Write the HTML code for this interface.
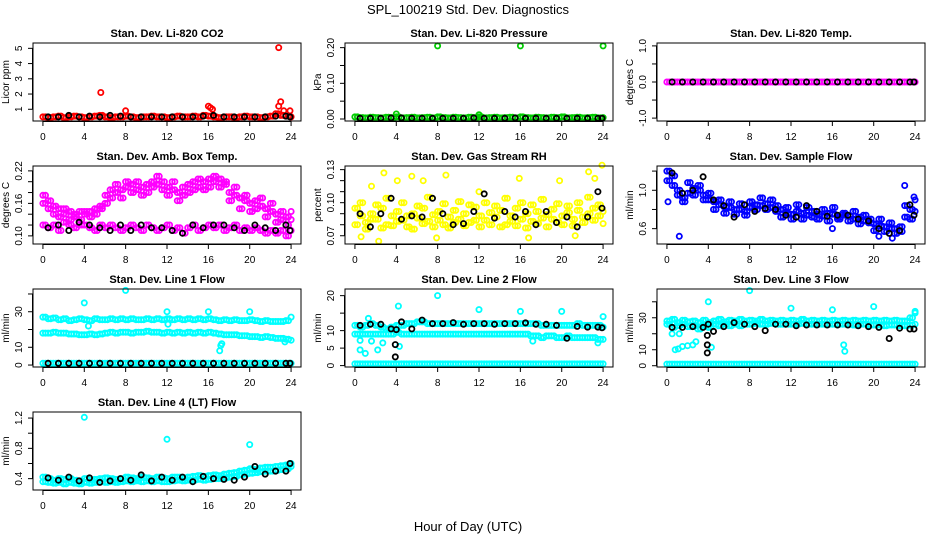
<!DOCTYPE html>
<html><head><meta charset="utf-8"><title>SPL_100219 Std. Dev. Diagnostics</title>
<style>
html,body{margin:0;padding:0;background:#fff;}
svg{display:block;font-family:"Liberation Sans",Arial,sans-serif;}
</style></head>
<body>
<svg id="chart" width="936" height="540" viewBox="0 0 936 540" xmlns="http://www.w3.org/2000/svg">
<text x="468" y="14" text-anchor="middle" font-size="13">SPL_100219  Std. Dev. Diagnostics</text>
<text x="468" y="531" text-anchor="middle" font-size="13">Hour of Day (UTC)</text>
</svg>
<script>
// ---- shared hour arrays ----
const H49 = [0,0.5,1,1.5,2,2.5,3,3.5,4,4.5,5,5.5,6,6.5,7,7.5,8,8.5,9,9.5,10,10.5,11,11.5,12,12.5,13,13.5,14,14.5,15,15.5,16,16.5,17,17.5,18,18.5,19,19.5,20,20.5,21,21.5,22,22.5,23,23.5,24];
const HB = [0.5,1.5,2.5,3.5,4.5,5.5,6.5,7.5,8.5,9.5,10.5,11.5,12.5,13.5,14.5,15.5,16.5,17.5,18.5,19.5,20.5,21.5,22.5,23.5,23.9];
const xTicks = [0,4,8,12,16,20,24];

// ---- CO2 ----
const co2Red = [0.5,0.45,0.5,0.55,0.45,0.5,0.55,0.5,0.45,0.5,0.55,0.6,0.5,0.45,0.5,0.5,0.55,0.5,0.45,0.5,0.5,0.55,0.5,0.5,0.45,0.5,0.55,0.5,0.5,0.55,0.5,0.6,0.55,0.5,0.45,0.5,0.5,0.45,0.5,0.55,0.5,0.5,0.45,0.5,0.55,0.7,0.6,0.55,0.5];
const co2Black = [0.5,0.5,0.6,0.5,0.55,0.5,0.6,0.55,0.5,0.5,0.5,0.5,0.5,0.5,0.5,0.55,0.6,0.5,0.5,0.5,0.5,0.5,0.55,0.55,0.5];
const co2OutX = [5.6,8,16,16.2,16.4,22.8,22.8,23,23.3,23.9];
const co2OutY = [2.1,0.9,1.2,1.1,1.0,5.05,1.2,1.5,0.9,0.9];
const co2Ticks = [1,2,3,4,5];

// ---- Pressure ----
const presGreen = [0.006,0.004,0.003,0.005,0.004,0.003,0.005,0.004,0.006,0.003,0.004,0.005,0.003,0.004,0.005,0.003,0.006,0.004,0.003,0.005,0.004,0.003,0.005,0.004,0.006,0.003,0.004,0.005,0.003,0.004,0.005,0.003,0.006,0.004,0.003,0.005,0.004,0.003,0.005,0.004,0.006,0.003,0.004,0.005,0.003,0.004,0.005,0.003,0.004];
const presBlack = [0.002,0.002,0.002,0.003,0.003,0.002,0.002,0.002,0.002,0.002,0.002,0.003,0.002,0.002,0.002,0.003,0.002,0.002,0.002,0.002,0.002,0.002,0.002,0.002,0.002];
const presOutX = [4,8,12,16,24];
const presOutY = [0.014,0.205,0.012,0.205,0.205];
const presTicks = [0,0.05,0.10,0.15,0.20];

// ---- Li-820 Temp ----
const tempMag = [0,0,0,0,0,0,0,0,0,0,0,0,0,0,0,0,0,0,0,0,0,0,0,0,0,0,0,0,0,0,0,0,0,0,0,0,0,0,0,0,0,0,0,0,0,0,0,0,0];
const tempBlack = [0,0,0,0,0,0,0,0,0,0,0,0,0,0,0,0,0,0,0,0,0,0,0,0,0];
const tempTicks = [-1,-0.5,0,0.5,1];

// ---- Amb Box Temp ----
const ambUpper = [0.175,0.165,0.155,0.15,0.15,0.145,0.14,0.145,0.14,0.145,0.15,0.155,0.175,0.185,0.18,0.185,0.19,0.195,0.185,0.19,0.195,0.2,0.195,0.2,0.19,0.185,0.18,0.175,0.195,0.2,0.19,0.2,0.205,0.2,0.205,0.195,0.18,0.175,0.17,0.165,0.16,0.165,0.155,0.15,0.145,0.14,0.13,0.135,0.145];
const ambUpper2 = [0.16,0.15,0.14,0.135,0.14,0.13,0.135,0.13,0.145,0.135,0.14,0.15,0.16,0.17,0.195,0.17,0.2,0.18,0.2,0.175,0.18,0.19,0.21,0.185,0.175,0.2,0.165,0.19,0.18,0.185,0.205,0.185,0.19,0.21,0.19,0.2,0.165,0.19,0.15,0.175,0.145,0.15,0.17,0.135,0.16,0.125,0.145,0.12,0.13];
const ambLower = [0.12,0.115,0.12,0.11,0.125,0.12,0.115,0.12,0.12,0.115,0.11,0.12,0.115,0.12,0.115,0.11,0.115,0.12,0.115,0.11,0.12,0.115,0.11,0.115,0.12,0.11,0.115,0.105,0.115,0.12,0.11,0.115,0.12,0.115,0.12,0.11,0.115,0.12,0.11,0.115,0.11,0.115,0.11,0.105,0.11,0.105,0.11,0.1,0.11];
const ambBlack = [0.115,0.12,0.11,0.125,0.12,0.115,0.11,0.12,0.11,0.12,0.115,0.115,0.11,0.105,0.12,0.115,0.12,0.12,0.115,0.11,0.12,0.115,0.11,0.12,0.11];
const ambTicks = [0.10,0.12,0.14,0.16,0.18,0.20,0.22];

// ---- Gas Stream RH ----
const gas1 = [0.095,0.088,0.082,0.09,0.085,0.095,0.08,0.088,0.092,0.084,0.078,0.09,0.086,0.095,0.083,0.089,0.092,0.08,0.087,0.093,0.085,0.09,0.082,0.096,0.088,0.084,0.091,0.087,0.093,0.08,0.088,0.095,0.085,0.09,0.083,0.092,0.086,0.089,0.094,0.082,0.088,0.091,0.085,0.093,0.087,0.09,0.095,0.088,0.092];
const gas2 = [0.08,0.1,0.076,0.085,0.098,0.077,0.104,0.079,0.083,0.1,0.088,0.076,0.097,0.081,0.105,0.078,0.084,0.099,0.077,0.082,0.101,0.079,0.098,0.084,0.078,0.1,0.08,0.097,0.078,0.104,0.083,0.079,0.1,0.077,0.098,0.081,0.103,0.078,0.085,0.099,0.08,0.097,0.079,0.1,0.082,0.105,0.084,0.098,0.081];
const gasBlack = [0.09,0.078,0.09,0.104,0.085,0.088,0.087,0.104,0.09,0.08,0.081,0.092,0.108,0.086,0.092,0.087,0.092,0.08,0.092,0.082,0.087,0.078,0.087,0.11,0.095];
const gasOutX = [0.6,1.6,2.8,2.3,4.1,5.5,6.6,8.8,12,15.9,19.8,22.6,23.9,7.9,16.8,21.3,23.2];
const gasOutY = [0.069,0.115,0.127,0.065,0.12,0.124,0.12,0.125,0.11,0.122,0.12,0.128,0.134,0.068,0.068,0.07,0.122];
const gasTicks = [0.07,0.08,0.09,0.10,0.11,0.12,0.13];

// ---- Sample Flow ----
const samp1 = [1.1,1.05,0.95,0.92,0.97,1.02,1.0,0.95,0.9,0.88,0.85,0.83,0.82,0.8,0.8,0.78,0.82,0.8,0.84,0.86,0.82,0.78,0.8,0.76,0.75,0.78,0.76,0.74,0.78,0.75,0.73,0.76,0.75,0.72,0.74,0.73,0.7,0.72,0.68,0.7,0.65,0.63,0.62,0.6,0.6,0.62,0.72,0.8,0.78];
const samp2 = [1.2,1.15,1.0,0.88,1.08,0.95,1.05,0.9,0.97,0.8,0.9,0.76,0.88,0.75,0.86,0.74,0.88,0.85,0.92,0.8,0.9,0.84,0.72,0.82,0.7,0.85,0.7,0.82,0.72,0.7,0.8,0.68,0.82,0.7,0.76,0.68,0.78,0.65,0.74,0.66,0.58,0.7,0.57,0.66,0.55,0.57,0.84,0.7,0.9];
const sampBlack = [1.18,0.97,1.0,1.14,0.9,0.84,0.72,0.85,0.78,0.81,0.8,0.74,0.72,0.84,0.78,0.73,0.74,0.74,0.7,0.68,0.6,0.55,0.58,0.85,0.74];
const sampOutX = [1.2,0.1,23,23.9,21.8,20.5,16];
const sampOutY = [0.52,0.88,1.05,0.93,0.5,0.52,0.6];
const sampTicks = [0.6,0.8,1.0,1.2];

// ---- Line 1 Flow ----
const l1Upper = [27,26,26.5,25.5,26,25,25.5,26,25.5,25,26,25.5,25.5,26,25.5,26,25.5,26,25.5,25.5,26,25.5,26,25.5,26,25.5,26,25.5,26,25.5,26,25.5,26,25.5,25,25.5,25,25.5,25,25,25.5,25,24.5,25,24.5,24.5,24.5,25,27];
const l1Mid = [18,18,18.5,18,18,17.5,17.5,17,17,17.5,17,17.5,18,18.5,18,18.5,18.5,18,18.5,18.5,19,18.5,18.5,18,18.5,18,18.5,18,18.5,18,18.5,18,18.5,18,17.5,17,17,17,16.5,16.5,16,16,15.5,16,15.5,15,15,14.5,14];
const l1Low = [1,1,1,1,1,1,1,1,1,1,1,1,1,1,1,1,1,1,1,1,1,1,1,1,1,1,1,1,1,1,1,1,1,1,1,1,1,1,1,1,1,1,1,1,1,1,1,1,1];
const l1Black = [1,1,1,1,1,1,1,1,1,1,1,1,1,1,1,1,1,1,1,1,1,1,1,1,1];
const l1OutX = [4,8,12,16,20,17.1,17.2,17.3,23.4,4.4,12.1];
const l1OutY = [35,42,30,30,30,8,11,12,13,22,23];
const l1Ticks = [0,10,20,30,40];

// ---- Line 2 Flow ----
const l2Upper = [11.5,11,11.5,12,11.5,11,10.5,11,11.5,11.5,12,12,12.5,12.5,12,12,12,12,12,12,12,12,12,12,12,12,12,12,12,12,12,12,12,12,12,12,11.5,11.5,11.5,11.5,11.5,11.5,11.5,12,11.5,11.5,11.5,11.5,11];
const l2Mid = [9,9,9,9,9,9,9,9,9.5,9,9,9,9,9,9,9,9,9,9,9,9,9,9,9,9,9,9,9,9,9,9,9,9,9,8.5,8.5,8,8.5,8.5,8,8,8.5,8,8,8,8,8,7.5,7.5];
const l2Low = [0.5,0.5,0.5,0.5,0.5,0.5,0.5,0.5,0.5,0.5,0.5,0.5,0.5,0.5,0.5,0.5,0.5,0.5,0.5,0.5,0.5,0.5,0.5,0.5,0.5,0.5,0.5,0.5,0.5,0.5,0.5,0.5,0.5,0.5,0.5,0.5,0.5,0.5,0.5,0.5,0.5,0.5,0.5,0.5,0.5,0.5,0.5,0.5,0.5];
const l2Black = [11.5,11.8,11.8,10.5,12.5,10.5,13,12,12,12.3,11.8,12,12,11.8,12,12,12.2,11.8,11.8,11.5,7.8,11.2,11,11,10.8];
const l2BlackOutX = [3.9,3.9,4];
const l2BlackOutY = [2.5,6,10.3];
const l2OutX = [4.2,8,12,16,20,24,0.5,1,1.6,2.2,2.7,0.5,4.3,17.2,23.5,1.3];
const l2OutY = [17,20,16,15.5,15.5,14,4.5,3.5,7,4.5,6.5,7.2,5.5,7,6.5,13.5];
const l2Ticks = [0,5,10,15,20];

// ---- Line 3 Flow ----
const l3Upper = [28,29,27,28.5,27.5,28,27,28.5,27,28,29,27.5,28.5,28,29,28,28.5,28,29,28,28.5,28,28.5,28,28.5,28,29,28,28.5,28,28.5,28,28.5,28,28.5,28,28.5,28,28.5,28,28.5,28,28.5,28,28.5,28,28,30,33];
const l3Upper2 = [26,24,25,26,24.5,25,23,25,24,26,25,26,25,26,25,26,26,26.5,26,26,26.5,26,26,26,26,26,26.5,26,26,26,26,26,26,26,26,26,25.5,26,26,25.5,25.5,25.5,25,25.5,25.5,25,25,25.5,26];
const l3Low = [1,1,1,1,1,1,1,1,1,1,1,1,1,1,1,1,1,1,1,1,1,1,1,1,1,1,1,1,1,1,1,1,1,1,1,1,1,1,1,1,1,1,1,1,1,1,1,1,1];
const l3Black = [24,24,24.5,24,21.5,24.5,27,26,24.5,22,26,26,25,25.5,25.5,25.5,25.5,25.5,25,24.5,24,17,23.5,23,23];
const l3BlackOutX = [3.9,3.9,3.9,4];
const l3BlackOutY = [8,13,19,26];
const l3OutX = [4,8,12,16,20,24,17.1,17.2,0.5,0.8,1.1,1.5,2,2.5,2.8,1.2,4.3];
const l3OutY = [40,47,36,35,37,34,13,9,20,10,10.5,12,12.5,13,15,20,11.5];
const l3Ticks = [0,10,20,30,40];

// ---- Line 4 Flow ----
const l4Band1 = [0.42,0.4,0.38,0.4,0.39,0.4,0.38,0.37,0.4,0.38,0.39,0.4,0.41,0.4,0.39,0.4,0.42,0.41,0.4,0.42,0.41,0.4,0.42,0.41,0.4,0.42,0.42,0.41,0.42,0.43,0.44,0.43,0.44,0.45,0.44,0.46,0.47,0.48,0.5,0.51,0.53,0.52,0.54,0.55,0.55,0.56,0.57,0.58,0.6];
const l4Band2 = [0.36,0.35,0.34,0.35,0.33,0.35,0.34,0.33,0.35,0.34,0.35,0.36,0.35,0.36,0.35,0.36,0.37,0.36,0.37,0.36,0.37,0.36,0.37,0.36,0.36,0.37,0.38,0.37,0.38,0.38,0.39,0.38,0.39,0.4,0.4,0.41,0.42,0.43,0.45,0.46,0.47,0.48,0.49,0.5,0.5,0.51,0.52,0.53,0.56];
const l4Black = [0.41,0.38,0.42,0.37,0.41,0.35,0.37,0.4,0.38,0.45,0.37,0.42,0.38,0.42,0.36,0.43,0.4,0.39,0.38,0.42,0.56,0.46,0.5,0.5,0.6];
const l4OutX = [4,12,20];
const l4OutY = [1.21,0.92,0.85];
const l4Ticks = [0.4,0.6,0.8,1.0,1.2];

const NS = "http://www.w3.org/2000/svg";
const svg = document.getElementById('chart');
function mk(tag, attrs, parent){
  const e = document.createElementNS(NS, tag);
  for (const k in attrs) e.setAttribute(k, attrs[k]);
  (parent||svg).appendChild(e);
  return e;
}
function fmt(v, dec){ return v.toFixed(dec); }

function panel(p){
  const left = 33 + 312*p.col, top = 43 + 123*p.row, w = 268, h = 78;
  const xs = v => left + (v + 0.96) / 25.92 * w;
  const ys = v => top + h - (v - p.ymin) / (p.ymax - p.ymin) * h;
  const g = mk('g', {});
  
  
  const t = mk('text', {x: left + w/2, y: top - 6, 'text-anchor':'middle', 'font-size':'11', 'font-weight':'bold'}, g);
  t.textContent = p.title;
  
  
  p.series.forEach(s => {
    const sg = mk('g', {fill:'none', stroke:s.color, 'stroke-width':'1.8'}, g);
    
    
    // dense bands: each sample also drawn at quarter-hour neighbour (rendering density only)
    const offs = s.dense ? [0, 0.25] : [0];
    for (let i = 0; i < s.y.length; i++) {
      offs.forEach(o => {
        const xv = s.x[i] + o;
        if (xv > 24.05) return;
        const c = mk('circle', {cx: xs(xv).toFixed(1), cy: ys(s.y[i]).toFixed(1), r: '2.6'}, sg);
        
        
      });
    }
  });
  const box = mk('rect', {x:left, y:top, width:w, height:h, fill:'none', stroke:'#000', 'stroke-width':'1'}, g);
  
  
  const xa = mk('g', {}, g);
  
  
  mk('line', {x1:xs(0), x2:xs(24), y1:top+h+0.5, y2:top+h+0.5, stroke:'#000'}, xa);
  xTicks.forEach(v => {
    mk('line', {x1:xs(v), x2:xs(v), y1:top+h, y2:top+h+5, stroke:'#000'}, xa);
    const tl = mk('text', {x:xs(v), y:top+h+19, 'text-anchor':'middle', 'font-size':'10'}, xa);
    tl.textContent = v;
    
    
  });
  const ya = mk('g', {}, g);
  
  
  const yt = p.ticks;
  mk('line', {x1:left-0.5, x2:left-0.5, y1:ys(yt[0]), y2:ys(yt[yt.length-1]), stroke:'#000'}, ya);
  yt.forEach(v => {
    mk('line', {x1:left-5, x2:left, y1:ys(v), y2:ys(v), stroke:'#000'}, ya);
    if (p.labels.indexOf(v) >= 0) {
      const tx = left - 11, ty = ys(v);
      const tl = mk('text', {x:tx, y:ty, 'text-anchor':'middle', 'font-size':'10', transform:`rotate(-90 ${tx} ${ty})`}, ya);
      tl.textContent = fmt(v, p.dec);
      
      
    }
  });
  const lx = left - 24, ly = top + h/2;
  const yl = mk('text', {x:lx, y:ly, 'text-anchor':'middle', 'font-size':'10', transform:`rotate(-90 ${lx} ${ly})`}, g);
  yl.textContent = p.ylab;
  
  
}

const RED='#ff0000', BLK='#000000', GRN='#00cc00', MAG='#ff00ff', YEL='#ffff00', BLU='#0000ff', CYN='#00ffff';

panel({name:'co2', title:'Stan. Dev. Li-820 CO2', col:0, row:0, ymin:0.23, ymax:5.35, ticks:co2Ticks, labels:co2Ticks, dec:0, ylab:'Licor ppm',
  series:[{label:'red-series',color:RED,x:H49,y:co2Red,dense:true},{label:'red-outliers',color:RED,x:co2OutX,y:co2OutY},{label:'black-series',color:BLK,x:HB,y:co2Black}]});
panel({name:'pressure', title:'Stan. Dev. Li-820 Pressure', col:1, row:0, ymin:-0.0056, ymax:0.213, ticks:presTicks, labels:[0,0.10,0.20], dec:2, ylab:'kPa',
  series:[{label:'green-series',color:GRN,x:H49,y:presGreen,dense:true},{label:'green-outliers',color:GRN,x:presOutX,y:presOutY},{label:'black-series',color:BLK,x:HB,y:presBlack}]});
panel({name:'li820-temp', title:'Stan. Dev. Li-820 Temp.', col:2, row:0, ymin:-1.08, ymax:1.08, ticks:tempTicks, labels:[-1,0,1], dec:1, ylab:'degrees C',
  series:[{label:'magenta-series',color:MAG,x:H49,y:tempMag,dense:true},{label:'black-series',color:BLK,x:HB,y:tempBlack}]});
panel({name:'amb-box-temp', title:'Stan. Dev. Amb. Box Temp.', col:0, row:1, ymin:0.085, ymax:0.229, ticks:ambTicks, labels:[0.10,0.16,0.22], dec:2, ylab:'degrees C',
  series:[{label:'magenta-upper',color:MAG,x:H49,y:ambUpper,dense:true},{label:'magenta-upper2',color:MAG,x:H49,y:ambUpper2,dense:true},{label:'magenta-lower',color:MAG,x:H49,y:ambLower,dense:true},{label:'black-series',color:BLK,x:HB,y:ambBlack}]});
panel({name:'gas-rh', title:'Stan. Dev. Gas Stream RH', col:1, row:1, ymin:0.0625, ymax:0.1333, ticks:gasTicks, labels:[0.07,0.10,0.13], dec:2, ylab:'percent',
  series:[{label:'yellow-series-1',color:YEL,x:H49,y:gas1,dense:true},{label:'yellow-series-2',color:YEL,x:H49,y:gas2,dense:true},{label:'yellow-outliers',color:YEL,x:gasOutX,y:gasOutY},{label:'black-series',color:BLK,x:HB,y:gasBlack}]});
panel({name:'sample-flow', title:'Stan. Dev. Sample Flow', col:2, row:1, ymin:0.44, ymax:1.253, ticks:sampTicks, labels:[0.6,1.0], dec:1, ylab:'ml/min',
  series:[{label:'blue-series-1',color:BLU,x:H49,y:samp1,dense:true},{label:'blue-series-2',color:BLU,x:H49,y:samp2,dense:true},{label:'blue-outliers',color:BLU,x:sampOutX,y:sampOutY},{label:'black-series',color:BLK,x:HB,y:sampBlack}]});
panel({name:'line1-flow', title:'Stan. Dev. Line 1 Flow', col:0, row:2, ymin:-1.1, ymax:42.8, ticks:l1Ticks, labels:[0,10,30], dec:0, ylab:'ml/min',
  series:[{label:'cyan-upper',color:CYN,x:H49,y:l1Upper,dense:true},{label:'cyan-mid',color:CYN,x:H49,y:l1Mid,dense:true},{label:'cyan-low',color:CYN,x:H49,y:l1Low,dense:true},{label:'cyan-outliers',color:CYN,x:l1OutX,y:l1OutY},{label:'black-series',color:BLK,x:HB,y:l1Black}]});
panel({name:'line2-flow', title:'Stan. Dev. Line 2 Flow', col:1, row:2, ymin:-0.4, ymax:21.9, ticks:l2Ticks, labels:[0,5,10,20], dec:0, ylab:'ml/min',
  series:[{label:'cyan-upper',color:CYN,x:H49,y:l2Upper,dense:true},{label:'cyan-mid',color:CYN,x:H49,y:l2Mid,dense:true},{label:'cyan-low',color:CYN,x:H49,y:l2Low,dense:true},{label:'cyan-outliers',color:CYN,x:l2OutX,y:l2OutY},{label:'black-series',color:BLK,x:HB,y:l2Black},{label:'black-outliers',color:BLK,x:l2BlackOutX,y:l2BlackOutY}]});
panel({name:'line3-flow', title:'Stan. Dev. Line 3 Flow', col:2, row:2, ymin:-0.8, ymax:48, ticks:l3Ticks, labels:[0,10,30], dec:0, ylab:'ml/min',
  series:[{label:'cyan-upper',color:CYN,x:H49,y:l3Upper,dense:true},{label:'cyan-upper2',color:CYN,x:H49,y:l3Upper2,dense:true},{label:'cyan-low',color:CYN,x:H49,y:l3Low,dense:true},{label:'cyan-outliers',color:CYN,x:l3OutX,y:l3OutY},{label:'black-series',color:BLK,x:HB,y:l3Black},{label:'black-outliers',color:BLK,x:l3BlackOutX,y:l3BlackOutY}]});
panel({name:'line4-flow', title:'Stan. Dev. Line 4 (LT) Flow', col:0, row:3, ymin:0.25, ymax:1.28, ticks:l4Ticks, labels:[0.4,0.8,1.2], dec:1, ylab:'ml/min',
  series:[{label:'cyan-band-1',color:CYN,x:H49,y:l4Band1,dense:true},{label:'cyan-band-2',color:CYN,x:H49,y:l4Band2,dense:true},{label:'cyan-outliers',color:CYN,x:l4OutX,y:l4OutY},{label:'black-series',color:BLK,x:HB,y:l4Black}]});
</script>
</body></html>
